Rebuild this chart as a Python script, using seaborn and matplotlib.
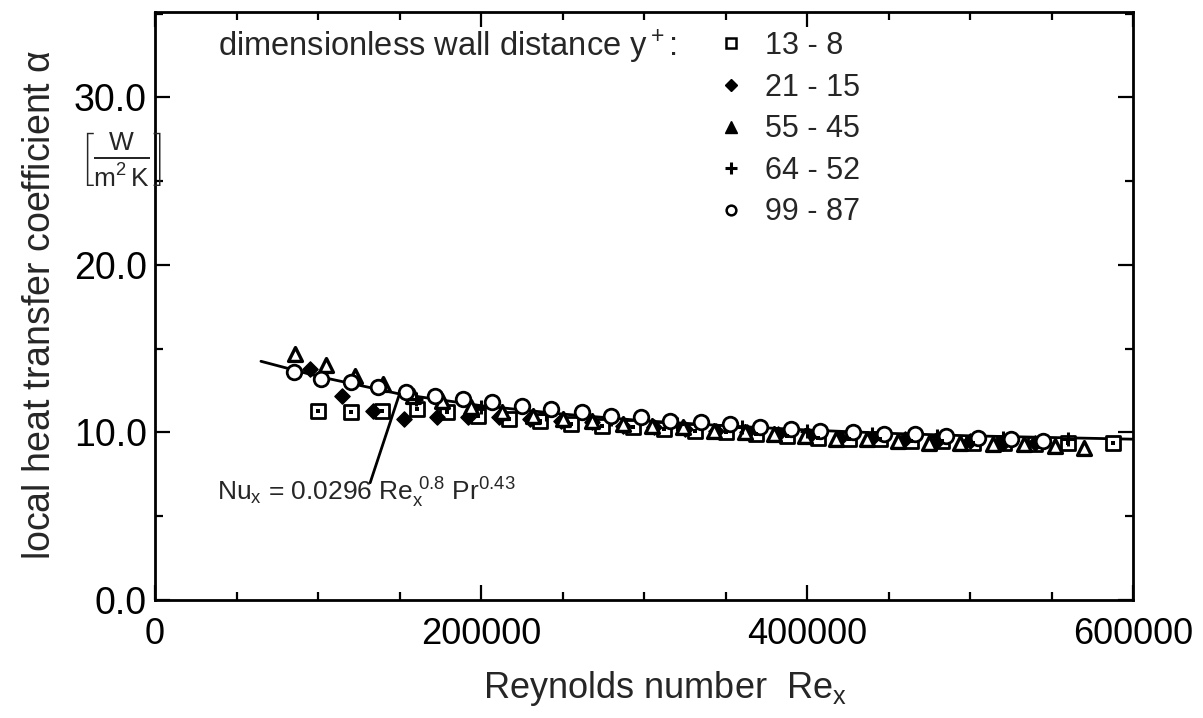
import numpy as np
import pandas as pd
import matplotlib
matplotlib.use("Agg")
import matplotlib.pyplot as plt
from matplotlib.lines import Line2D
import seaborn as sns

# ---------------- data ----------------
re_sq = [100000, 120000, 139000, 161000, 179000, 198000, 217000, 236000, 255000, 274000,
         293000, 312000, 331000, 350000, 369000, 388000, 407000, 426000, 445000, 464000,
         483000, 502000, 521000, 540000, 560000, 588000]
a_sq = [11.3, 11.2, 11.3, 11.4, 11.2, 11.0, 10.8, 10.7, 10.5, 10.4,
        10.3, 10.2, 10.1, 10.0, 9.9, 9.8, 9.7, 9.6, 9.6, 9.5,
        9.5, 9.4, 9.4, 9.3, 9.4, 9.35]

re_di = [95000, 115000, 134000, 153000, 173000, 192000, 211000, 230000, 249000, 268000,
         287000, 306000, 325000, 344000, 363000, 382000, 401000, 420000, 440000, 460000,
         480000, 500000, 520000, 540000]
a_di = [13.8, 12.2, 11.3, 10.8, 10.9, 10.9, 10.9, 10.8, 10.7, 10.6,
        10.4, 10.3, 10.2, 10.1, 10.0, 9.9, 9.8, 9.7, 9.7, 9.6,
        9.5, 9.5, 9.4, 9.4]

re_tr = [86000, 105000, 123000, 140000, 158000, 176000, 194000, 213000, 232000, 250000,
         268000, 287000, 305000, 324000, 343000, 362000, 380000, 399000, 418000, 437000,
         456000, 475000, 494000, 514000, 533000, 552000, 570000]
a_tr = [14.7, 14.0, 13.4, 12.9, 12.2, 11.9, 11.5, 11.2, 11.0, 10.8,
        10.7, 10.5, 10.4, 10.3, 10.1, 10.0, 9.9, 9.8, 9.6, 9.6,
        9.5, 9.4, 9.4, 9.3, 9.3, 9.2, 9.1]

re_cr = [160000, 200000, 240000, 280000, 320000, 360000, 400000, 440000, 480000, 520000, 560000]
a_cr = [12.0, 11.5, 11.1, 10.8, 10.5, 10.3, 10.1, 9.9, 9.8, 9.7, 9.6]

re_ci = [85000, 102000, 120000, 137000, 154000, 172000, 189000, 207000, 225000, 243000,
         262000, 280000, 298000, 316000, 335000, 353000, 371000, 390000, 408000, 428000,
         447000, 466000, 485000, 505000, 525000, 545000]
a_ci = [13.6, 13.2, 13.0, 12.7, 12.4, 12.2, 12.0, 11.8, 11.6, 11.4,
        11.2, 11.0, 10.9, 10.7, 10.6, 10.5, 10.3, 10.2, 10.1, 10.0,
        9.9, 9.9, 9.8, 9.7, 9.6, 9.5]

# correlation curve Nu_x = 0.0296 Re_x^0.8 Pr^0.43
re_fit = [65000, 100000, 150000, 200000, 250000, 300000, 350000, 400000, 450000, 500000, 550000, 600000]
a_fit = [14.25, 13.35, 12.3, 11.6, 11.1, 10.7, 10.4, 10.15, 9.95, 9.8, 9.7, 9.6]

series_labels = ["13 - 8", "21 - 15", "55 - 45", "64 - 52", "99 - 87"]
x_ticks = [0, 200000, 400000, 600000]
y_ticks = [0.0, 10.0, 20.0, 30.0]

# ---------------- style ----------------
sns.set_style("ticks")
plt.rcParams["font.family"] = ["Liberation Sans", "DejaVu Sans"]
plt.rcParams["mathtext.fontset"] = "custom"
plt.rcParams["mathtext.rm"] = "Liberation Sans"
plt.rcParams["mathtext.it"] = "Liberation Sans"
plt.rcParams["mathtext.bf"] = "Liberation Sans:bold"

fig = plt.figure(figsize=(12.03, 7.18), dpi=100)
ax = fig.add_axes([155/1203, 1-600/718, (1133-155)/1203, (600-12)/718])

K = "black"
sns.scatterplot(x=re_sq, y=a_sq, marker="s", s=95, facecolor="white", edgecolor=K, linewidth=2.0, ax=ax, zorder=3)
sns.scatterplot(x=re_sq, y=a_sq, marker="s", s=8, color=K, linewidth=0, ax=ax, zorder=4)
sns.scatterplot(x=re_di, y=a_di, marker="D", s=60, color=K, edgecolor=K, linewidth=1, ax=ax, zorder=3)
sns.scatterplot(x=re_tr, y=a_tr, marker="^", s=100, facecolor="white", edgecolor=K, linewidth=2.4, ax=ax, zorder=3)
sns.scatterplot(x=re_cr, y=a_cr, marker="+", s=110, color=K, linewidth=2.2, ax=ax, zorder=3)
sns.scatterplot(x=re_ci, y=a_ci, marker="o", s=110, facecolor="white", edgecolor=K, linewidth=2.0, ax=ax, zorder=3)

sns.lineplot(x=re_fit, y=a_fit, color=K, linewidth=2, ax=ax, zorder=2)

# pointer for the correlation
ax.annotate("", xy=(re_fit[2], a_fit[2]), xytext=(132000, 7.0),
            arrowprops=dict(arrowstyle="-", color=K, lw=2, shrinkA=0, shrinkB=0))
ax.text(38000, 6.4, r"Nu$_\mathregular{x}$ = 0.0296 Re$_\mathregular{x}^{\ 0.8}$ Pr$^{0.43}$",
        fontsize=19, ha="left", va="center")

ax.set_xlim(0, 600000)
ax.set_ylim(0, 35.1)
ax.set_xticks(x_ticks)
ax.set_xticklabels([str(v) for v in x_ticks])
ax.set_yticks(y_ticks)
ax.set_yticklabels([f"{v:.1f}" for v in y_ticks])
ax.set_xticks(np.arange(0, 600001, 50000), minor=True)
ax.set_yticks(np.arange(0, 35.1, 5), minor=True)
ax.tick_params(which="both", direction="in", top=True, right=True, width=1.6, colors=K)
ax.tick_params(which="major", length=11, pad=8)
ax.tick_params(which="minor", length=6)
ax.tick_params(axis="y", which="major", labelsize=27, pad=6)
ax.tick_params(axis="x", which="major", labelsize=26, pad=12)
for sp in ax.spines.values():
    sp.set_linewidth(2)
    sp.set_color(K)
ax.set_xlabel("")
ax.set_ylabel("")

fig.text(665/1203, 1-688/718, r"Reynolds number  Re$_\mathregular{x}$", fontsize=26, ha="center", va="center")
fig.text(40/1203, 1-305/718, r"local heat transfer coefficient $\alpha$", fontsize=27,
         rotation=90, ha="center", va="center")
fig.text(120/1203, 1-160/718, r"$\left[\frac{\mathregular{W}}{\mathregular{m^2\,K}}\right]$", fontsize=27,
         ha="center", va="center")

# legend
fig.text(218/1203, 1-47/718, r"dimensionless wall distance y$^+$:", fontsize=23.5, ha="left", va="center")
handles = [
    Line2D([], [], ls="", marker="s", ms=7, mfc="white", mec=K, mew=1.8),
    Line2D([], [], ls="", marker="D", ms=6, mfc=K, mec=K),
    Line2D([], [], ls="", marker="^", ms=8, mfc=K, mec=K),
    Line2D([], [], ls="", marker="+", ms=9, mec=K, mew=2.2),
    Line2D([], [], ls="", marker="o", ms=7, mfc="white", mec=K, mew=1.8),
]
fig.legend(handles, series_labels, loc="upper left", bbox_to_anchor=(716/1203, 1-31/718),
           frameon=False, fontsize=22, handlelength=1.0, handletextpad=0.6, labelspacing=0.38,
           borderaxespad=0, borderpad=0)

fig.savefig("out.png", dpi=100)
